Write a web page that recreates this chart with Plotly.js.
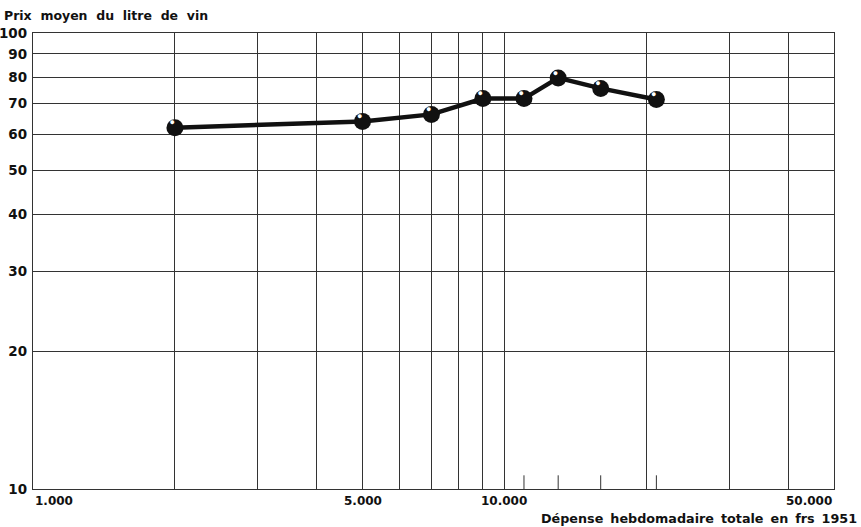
<!DOCTYPE html>
<html><head><meta charset="utf-8">
<script src="https://cdn.plot.ly/plotly-3.0.1.min.js"></script>
<style>body{margin:0;background:#fff}#c{width:861px;height:527px}</style>
</head><body><div id="c"></div>
<script>
// Data
const depense = [2000, 5000, 7000, 9000, 11000, 13000, 16000, 21000];
const prixLitre = [62, 64, 66.3, 71.8, 71.8, 79.7, 75.6, 71.5];
const xGrid = [2000,3000,4000,5000,6000,7000,8000,9000,10000,20000,30000,40000];
const xLabelVals = [1000, 5000, 10000, 50000];
const xLabelText = ["1.000", "5.000", "10.000", "50.000"];
const xLabelAnchor = ["left", "center", "center", "right"];
const yTickVals = [10,20,30,40,50,60,70,80,90,100];
const yTickText = ["10","20","30","40","50","60","70","80","90","100"];
const dataTicks = [11000, 13000, 16000, 21000];

const FONT = "DejaVu Sans, sans-serif";
const ink = "#111";
const sp = "\u00a0\u2009";

const traces = [
  {x: depense, y: prixLitre, mode: "lines+markers", type: "scatter",
   line: {color: ink, width: 4.5},
   marker: {color: ink, size: 17}, hoverinfo: "none", showlegend: false},
  {x: depense, y: prixLitre, mode: "text", type: "scatter",
   text: depense.map(() => "●"), textposition: "top left",
   marker: {size: 1},
   textfont: {color: "#fff", size: 9}, hoverinfo: "none", showlegend: false}
];

const annotations = xLabelVals.map((v, i) => ({
  x: Math.log10(v), y: 0, xref: "x", yref: "paper",
  text: "<b>" + xLabelText[i] + "</b>", showarrow: false, xanchor: xLabelAnchor[i], yanchor: "top",
  yshift: -3, font: {family: FONT, size: 12, color: ink}
}));
annotations.push({x: 0, y: 1, xref: "paper", yref: "paper", xshift: -31, yshift: 8,
  text: "<b>" + ["Prix","moyen","du","litre","de","vin"].join(" \u00a0") + "</b>", showarrow: false, xanchor: "left", yanchor: "bottom",
  font: {family: FONT, size: 12.5, color: ink}});
annotations.push({x: 1, y: 0, xref: "paper", yref: "paper", xshift: -295, yshift: -20,
  text: "<b>" + ["Dépense","hebdomadaire","totale","en","frs","1951"].join(sp) + "</b>", showarrow: false, xanchor: "left", yanchor: "top",
  font: {family: FONT, size: 12.75, color: ink}});

const shapes = dataTicks.map(v => ({type: "line", xref: "x", yref: "paper",
  x0: v, x1: v, y0: 0, y1: 0.03, line: {color: "#333", width: 1}}));

const layout = {
  width: 861, height: 527,
  margin: {l: 33, r: 27, t: 33, b: 38},
  paper_bgcolor: "#fff", plot_bgcolor: "#fff",
  xaxis: {type: "log", range: [3, Math.log10(50000)], tickmode: "array", tickvals: xGrid,
    showticklabels: false, ticks: "", showgrid: true, gridcolor: "#333", gridwidth: 1,
    zeroline: false, showline: true, mirror: true, linecolor: "#333", linewidth: 1.2},
  yaxis: {type: "log", range: [1, 2], tickmode: "array", tickvals: yTickVals, ticktext: yTickText,
    ticks: "", showgrid: true, gridcolor: "#333", gridwidth: 1, ticklabelstandoff: 2,
    zeroline: false, showline: true, mirror: true, linecolor: "#333", linewidth: 1.2,
    tickfont: {family: FONT, size: 13.5, color: ink, weight: "bold"}},
  annotations: annotations, shapes: shapes
};
Plotly.newPlot("c", traces, layout, {staticPlot: true});
</script></body></html>
